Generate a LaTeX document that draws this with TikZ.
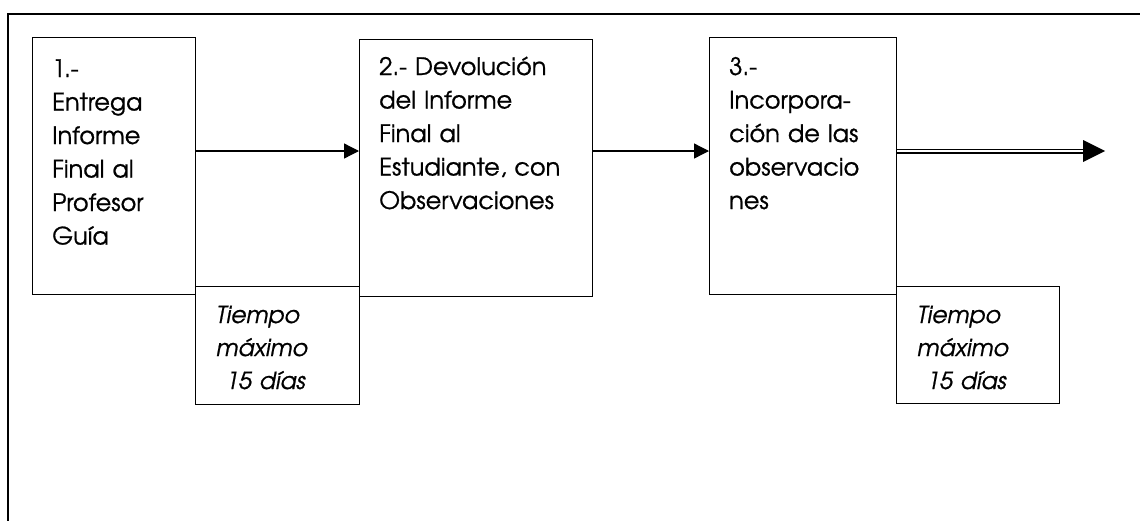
\documentclass[tikz,border=0pt]{standalone}
\usepackage{fontspec}
\setmainfont{TeX Gyre Adventor}[FakeBold=0.8]
\usetikzlibrary{arrows.meta}
\tikzset{
  x=1pt, y=-1pt,
  stepbox/.style={draw, line width=1.3pt, fill=white, rectangle, inner sep=0pt, anchor=north west},
  txt/.style={inner sep=0pt, anchor=base west, align=left, text width=#1,
    font=\fontsize{24}{33.5}\selectfont},
  itxt/.style={inner sep=0pt, anchor=base west, align=left, text width=#1,
    font=\fontsize{23.5}{33}\selectfont\itshape},
  conn/.style={line width=1.3pt, -{Triangle[length=15pt,width=15pt]}},
  frame/.style={line width=2pt},
}
\begin{document}
\begin{tikzpicture}
\useasboundingbox (0,0) rectangle (1140,520);
\fill[white] (0,0) rectangle (1140,520);
% outer frame (cut by the page edges)
\coordinate (fc) at (8,14);
\coordinate (fr) at (1141,14);
\coordinate (fb) at (8,521);
\draw[frame] (fr) -- (fc) -- (fb);
% boxes
\node[stepbox, minimum width=163pt, minimum height=257pt] (b1) at (32,37) {};
\node[stepbox, minimum width=233pt, minimum height=257pt] (b2) at (359,39) {};
\node[stepbox, minimum width=187pt, minimum height=257pt] (b3) at (709,37) {};
\node[stepbox, minimum width=164pt, minimum height=118pt] (tb1) at (195,286) {};
\node[stepbox, minimum width=163pt, minimum height=117pt] (tb2) at (896,286) {};
% texts
\node[txt=150pt] (t1) at ([shift={(20,40)}]b1.north west) {1.-\\Entrega\\Informe\\Final al\\Profesor\\Guía};
\node[txt=225pt] (t2) at ([shift={(20,36)}]b2.north west) {2.- Devolución\\del Informe\\Final al\\Estudiante, con\\Observaciones};
\node[txt=180pt] (t3) at ([shift={(20,38)}]b3.north west) {3.-\\Incorpora-\\ción de las\\observacio\\nes};
\node[itxt=150pt] (ti1) at ([shift={(21,37)}]tb1.north west) {Tiempo\\máximo\\\hspace*{0.4em}15 días};
\node[itxt=150pt] (ti2) at ([shift={(21,37)}]tb2.north west) {Tiempo\\máximo\\\hspace*{0.4em}15 días};
% connectors
\coordinate (ay) at (0,151);
\coordinate (out) at (1105,151);
\coordinate (outbase) at (1083,151);
\draw[conn] (b1.east |- ay) -- (b2.west |- ay);
\draw[conn] (b2.east |- ay) -- (b3.west |- ay);
\draw[line width=1.4pt, double, double distance=2.2pt] (b3.east |- ay) -- (outbase);
\fill ([yshift=-11]outbase) -- (out) -- ([yshift=11]outbase) -- cycle;
\end{tikzpicture}
\end{document}
